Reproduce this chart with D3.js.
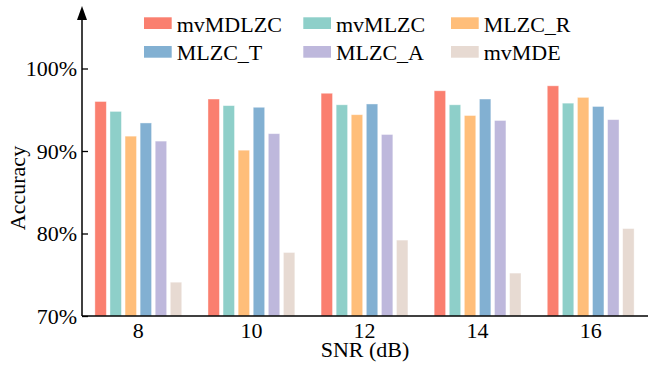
<!DOCTYPE html>
<html>
<head>
<meta charset="utf-8">
<script src="https://cdn.jsdelivr.net/npm/d3@7"></script>
<style>
  html, body { margin: 0; padding: 0; background: #fff; }
  svg { display: block; font-family: "Liberation Serif", "Times New Roman", serif; }
</style>
</head>
<body>
<svg id="chart" width="648" height="371"></svg>
<script>
const snr = ["8", "10", "12", "14", "16"];
const series = ["mvMDLZC", "mvMLZC", "MLZC_R", "MLZC_T", "MLZC_A", "mvMDE"];
const colors = ["#FA7F6F", "#8ECFC9", "#FFBE7A", "#82B0D2", "#BEB8DC", "#E7DAD2"];

const mvMDLZC = [96.0, 96.3, 97.0, 97.3, 97.9];
const mvMLZC  = [94.8, 95.5, 95.6, 95.6, 95.8];
const MLZC_R  = [91.8, 90.1, 94.4, 94.3, 96.5];
const MLZC_T  = [93.4, 95.3, 95.7, 96.3, 95.4];
const MLZC_A  = [91.2, 92.1, 92.0, 93.7, 93.8];
const mvMDE   = [74.1, 77.7, 79.2, 75.2, 80.6];

const yTicks = [70, 80, 90, 100];

const values = [mvMDLZC, mvMLZC, MLZC_R, MLZC_T, MLZC_A, mvMDE];
const data = snr.map((s, i) => ({
    label: s,
    bars: series.map((name, j) => ({ name, value: values[j][i] }))
}));

const svg = d3.select("#chart");
const plotLeft = 82, plotRight = 647, plotBottom = 316, plotTop = 68.5;

const x0 = d3.scaleBand()
    .domain(snr)
    .range([plotLeft, plotRight])
    .paddingInner(0.232)
    .paddingOuter(0.114);

const x1 = d3.scaleBand()
    .domain(series)
    .range([0, x0.bandwidth()])
    .paddingInner(0.24)
    .paddingOuter(0);

const y = d3.scaleLinear()
    .domain([70, 100])
    .range([plotBottom, plotTop]);

const color = d3.scaleOrdinal().domain(series).range(colors);

// bars
svg.append("g")
    .selectAll("g")
    .data(data)
    .join("g")
    .attr("transform", d => `translate(${x0(d.label)},0)`)
    .selectAll("rect")
    .data(d => d.bars)
    .join("rect")
    .attr("x", d => x1(d.name))
    .attr("y", d => y(d.value))
    .attr("width", x1.bandwidth())
    .attr("height", d => y(70) - y(d.value))
    .attr("fill", d => color(d.name))
    .attr("stroke", "#fff")
    .attr("stroke-opacity", 0.5)
    .attr("stroke-width", 0.8);

// y axis
const yAxis = svg.append("g")
    .attr("transform", `translate(${plotLeft},0)`)
    .call(d3.axisLeft(y).tickValues(yTicks).tickFormat(d => d + "%").tickSize(-6).tickPadding(5));
yAxis.select(".domain").remove();
yAxis.selectAll(".tick line").attr("stroke", "#000").attr("stroke-width", 1.3);
yAxis.selectAll("text").attr("font-size", 22).attr("font-family", "Liberation Serif, serif").attr("fill", "#000").attr("dy", "0.32em");

svg.append("line")
    .attr("x1", plotLeft).attr("x2", plotLeft)
    .attr("y1", plotBottom).attr("y2", 16)
    .attr("stroke", "#000").attr("stroke-width", 1.5);
svg.append("path")
    .attr("d", `M${plotLeft},6 L${plotLeft - 5},20 L${plotLeft + 5},20 Z`)
    .attr("fill", "#000");

// x axis
const xAxis = svg.append("g")
    .attr("transform", `translate(0,${plotBottom})`)
    .call(d3.axisBottom(x0).tickSize(0).tickPadding(6.5));
xAxis.select(".domain").remove();
xAxis.selectAll("text").attr("font-size", 22).attr("font-family", "Liberation Serif, serif").attr("fill", "#000");

svg.append("line")
    .attr("x1", plotLeft).attr("x2", 648)
    .attr("y1", plotBottom).attr("y2", plotBottom)
    .attr("stroke", "#000").attr("stroke-width", 1.5);

// axis titles
svg.append("text")
    .attr("x", (plotLeft + 648) / 2)
    .attr("y", 357)
    .attr("text-anchor", "middle")
    .attr("font-size", 22)
    .text("SNR (dB)");

svg.append("text")
    .attr("transform", "translate(25,188) rotate(-90)")
    .attr("text-anchor", "middle")
    .attr("font-size", 22)
    .text("Accuracy");

// legend
const legendX = [144, 303.3, 451];
const legendY = [17.3, 46];
const legend = svg.append("g")
    .selectAll("g")
    .data(series)
    .join("g")
    .attr("transform", (d, i) => `translate(${legendX[i % 3]},${legendY[Math.floor(i / 3)]})`);
legend.append("rect")
    .attr("width", 27.7)
    .attr("height", 11.7)
    .attr("fill", d => color(d));
legend.append("text")
    .attr("x", 32.7)
    .attr("y", 14.4)
    .attr("font-size", 22)
    .text(d => d);
</script>
</body>
</html>
